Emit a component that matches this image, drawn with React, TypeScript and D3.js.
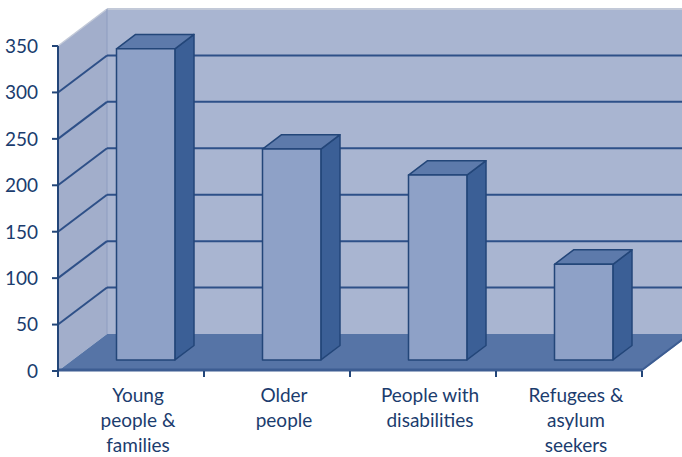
import React from "react";
import * as d3 from "d3";

const categories: string[][] = [
  ["Young", "people &", "families"],
  ["Older", "people"],
  ["People with", "disabilities"],
  ["Refugees &", "asylum", "seekers"],
];
const values: number[] = [335, 227, 199, 103];
const yTicks: number[] = [0, 50, 100, 150, 200, 250, 300, 350];

const W = 682;
const H = 457;
const DX = 49;
const DY = 37;
const Z0 = 0.3;
const Z1 = 0.69;

const OUT = "#234679";
const TXT = "#1b3c6e";

export default function App() {
  const y = d3.scaleLinear().domain([0, 350]).range([371, 46]);
  const x = d3
    .scaleBand<number>()
    .domain(categories.map((_, i) => i))
    .range([58, 642])
    .padding(0);
  const bw = x.bandwidth();
  const barW = bw * 0.4;

  const P = (px: number, v: number, z: number): [number, number] => [
    px + z * DX,
    y(v) - z * DY,
  ];
  const poly = (pts: [number, number][]) =>
    pts.map((p) => p.map((n) => n.toFixed(1)).join(",")).join(" ");

  const x0 = x.range()[0];
  const x1 = x.range()[1];
  const top = 350;

  return (
    <svg
      width={W}
      height={H}
      style={{ position: "absolute", left: 0, top: 0 }}
      fontFamily="Lato, 'Liberation Sans', sans-serif"
    >
      <rect width={W} height={H} fill="#fff" />
      {/* back wall */}
      <polygon
        points={poly([P(x0, top, 1), P(x1, top, 1), P(x1, 0, 1), P(x0, 0, 1)])}
        fill="#a9b5d1"
      />
      <line
        x1={P(x0, top, 1)[0]}
        y1={P(x0, top, 1)[1]}
        x2={P(x1, top, 1)[0]}
        y2={P(x0, top, 1)[1]}
        stroke="#c2c9d8"
        strokeWidth={2}
      />
      {/* side wall */}
      <polygon
        points={poly([P(x0, top, 0), P(x0, top, 1), P(x0, 0, 1), P(x0, 0, 0)])}
        fill="#a2aecb"
      />
      <line
        x1={P(x0, top, 0)[0]}
        y1={P(x0, top, 0)[1]}
        x2={P(x0, top, 1)[0]}
        y2={P(x0, top, 1)[1]}
        stroke="#c2c9d8"
        strokeWidth={1.5}
      />
      <line
        x1={P(x0, top, 1)[0]}
        y1={P(x0, top, 1)[1]}
        x2={P(x0, 0, 1)[0]}
        y2={P(x0, 0, 1)[1]}
        stroke="#8e9dc0"
        strokeWidth={1}
      />
      {/* gridlines */}
      {yTicks
        .filter((t) => t > 0 && t < top)
        .map((t) => (
          <g key={t}>
            <line
              x1={P(x0, t, 1)[0]}
              y1={P(x0, t, 1)[1]}
              x2={P(x1, t, 1)[0]}
              y2={P(x0, t, 1)[1]}
              stroke="#2e5088"
              strokeWidth={2}
            />
            <line
              x1={P(x0, t, 0)[0]}
              y1={P(x0, t, 0)[1]}
              x2={P(x0, t, 1)[0]}
              y2={P(x0, t, 1)[1]}
              stroke="#2e5088"
              strokeWidth={2}
            />
          </g>
        ))}
      {/* floor */}
      <polygon
        points={poly([P(x0, 0, 0), P(x0, 0, 1), P(x1, 0, 1), P(x1, 0, 0)])}
        fill="#5674a6"
      />
      <line
        x1={P(x0, 0, 0)[0]}
        y1={P(x0, 0, 0)[1] - 1}
        x2={P(x1, 0, 0)[0]}
        y2={P(x1, 0, 0)[1] - 1}
        stroke="#3d5d92"
        strokeWidth={3}
      />
      <line
        x1={P(x1, 0, 0)[0]}
        y1={P(x1, 0, 0)[1] - 1}
        x2={P(x1, 0, 1)[0]}
        y2={P(x1, 0, 1)[1] - 1}
        stroke="#3d5d92"
        strokeWidth={2}
      />
      {/* bars */}
      {values.map((v, i) => {
        const bx = (x(i) as number) + (bw - barW) / 2;
        const front = [P(bx, v, Z0), P(bx + barW, v, Z0), P(bx + barW, 0, Z0), P(bx, 0, Z0)] as [number, number][];
        const topF = [P(bx, v, Z0), P(bx, v, Z1), P(bx + barW, v, Z1), P(bx + barW, v, Z0)] as [number, number][];
        const side = [P(bx + barW, v, Z0), P(bx + barW, v, Z1), P(bx + barW, 0, Z1), P(bx + barW, 0, Z0)] as [number, number][];
        return (
          <g key={i} stroke={OUT} strokeWidth={1.5} strokeLinejoin="round">
            <polygon points={poly(side)} fill="#3b5f96" />
            <polygon points={poly(topF)} fill="#5d7aab" />
            <polygon points={poly(front)} fill="#8ea1c7" />
          </g>
        );
      })}
      {/* y axis */}
      <line x1={x0} y1={y(top)} x2={x0} y2={y(0) + 5} stroke={OUT} strokeWidth={2} />
      {yTicks.map((t) => (
        <g key={t}>
          <line x1={x0 - 6} y1={y(t)} x2={x0} y2={y(t)} stroke={OUT} strokeWidth={2} />
          <text
            x={38}
            y={y(t)}
            dy="0.36em"
            textAnchor="end"
            fontSize={19}
            fill={TXT}
          >
            {t}
          </text>
        </g>
      ))}
      {/* x ticks */}
      {[...categories.map((_, i) => x(i) as number), x1].map((px, i) => (
        <line key={i} x1={px} y1={y(0)} x2={px} y2={y(0) + 6} stroke={OUT} strokeWidth={2} />
      ))}
      {/* x labels */}
      {categories.map((lines, i) => (
        <text
          key={i}
          x={(x(i) as number) + bw / 2 + 7}
          textAnchor="middle"
          fontSize={19}
          fill={TXT}
        >
          {lines.map((l, j) => (
            <tspan key={j} x={(x(i) as number) + bw / 2 + 7} y={402 + j * 25}>
              {l}
            </tspan>
          ))}
        </text>
      ))}
    </svg>
  );
}
